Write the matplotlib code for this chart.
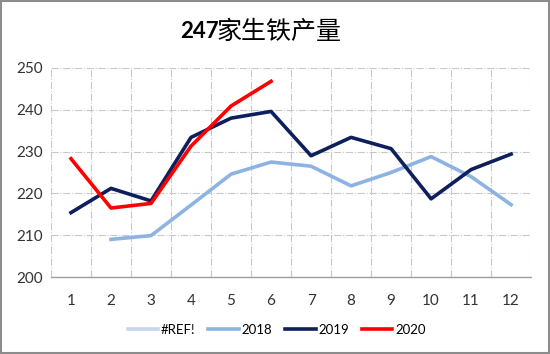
import matplotlib.pyplot as plt
import numpy as np

months = list(range(1, 13))
ref_vals = [np.nan] * 12
y2018 = [np.nan, 209.0, 209.9, 217.2, 224.6, 227.5, 226.5, 221.8, 225.0, 228.8, 224.0, 217.3]
y2019 = [215.4, 221.2, 218.2, 233.4, 238.0, 239.6, 229.0, 233.4, 230.7, 218.7, 225.7, 229.4]
y2020 = [228.3, 216.5, 217.6, 231.3, 240.9, 246.8]

plt.rcParams['font.family'] = ['Lato', 'Noto Sans CJK SC', 'DejaVu Sans']

fig = plt.figure(figsize=(5.5, 3.54), dpi=100)
ax = fig.add_axes([0.0927, 0.2175, 0.873, 0.5905])

ax.plot(months, ref_vals, c='#c6d6eb', lw=2.6, label="#REF!")
ax.plot(months, y2018, c='#8db3e2', lw=2.6, label="2018")
ax.plot(months, y2019, c='#0d1f5c', lw=2.6, label="2019")
ax.plot(months[:len(y2020)], y2020, c='#ff0000', lw=2.6, label="2020")

ax.set_xlim(0.5, 12.5)
ax.set_ylim(200, 250)
ax.set_xticks(months)
ax.set_yticks(range(200, 251, 10))
ax.set_xticks(np.arange(0.5, 12.6, 1), minor=True)
ax.grid(True, which='minor', axis='x', linestyle='-.', color='#c8c8c8', lw=0.8)
ax.grid(True, which='major', axis='y', linestyle='-.', color='#c8c8c8', lw=0.8)
ax.tick_params(which='both', length=0)
ax.tick_params(axis='x', labelsize=11, pad=12, colors='#333333')
ax.tick_params(axis='y', labelsize=11, pad=6, colors='#333333')
for s in ['top', 'right', 'left']:
    ax.spines[s].set_visible(False)
ax.spines['bottom'].set_color('#a0a0a0')
ax.spines['bottom'].set_linewidth(1.0)

# 标题：数字加粗，中文常规
fig.text(0.397, 0.91, "247", ha='right', va='center', fontsize=16, fontweight='bold', family='Lato')
fig.text(0.394, 0.91, "家生铁产量", ha='left', va='center', fontsize=18, fontweight='medium',
         family=['Noto Sans CJK SC', 'DejaVu Sans'])

fig.legend(loc='center', bbox_to_anchor=(0.503, 0.068), ncol=4, frameon=False, fontsize=9.5,
           handlelength=2.3, handletextpad=0.2, columnspacing=1.0)

# 外边框
fig.patches.append(plt.Rectangle((0.002, 0.003), 0.996, 0.994, transform=fig.transFigure,
                                 fill=False, edgecolor='#8c8c8c', lw=1.5))

fig.savefig('out.png', dpi=100)
